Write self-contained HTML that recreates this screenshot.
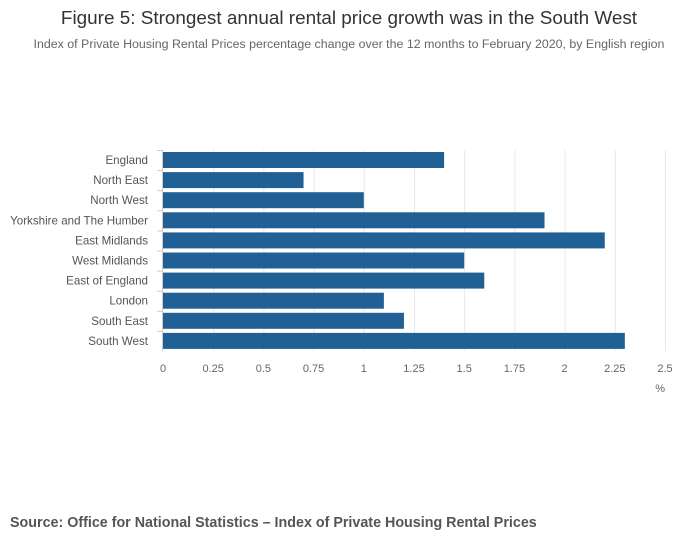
<!DOCTYPE html>
<html><head><meta charset="utf-8"><style>
body{margin:0;background:#fff;width:700px;height:549px;overflow:hidden;font-family:"Liberation Sans",sans-serif;}
</style></head><body>
<svg width="700" height="549" xmlns="http://www.w3.org/2000/svg" font-family="Liberation Sans, sans-serif">
<text x="349" y="24" text-anchor="middle" font-size="18.9" fill="#333">Figure 5: Strongest annual rental price growth was in the South West</text>
<text x="349" y="48" text-anchor="middle" font-size="12.4" fill="#666">Index of Private Housing Rental Prices percentage change over the 12 months to February 2020, by English region</text>
<g id="grid"></g><g id="bars"></g><g id="ylab"></g><g id="xlab"></g>
<line x1="162.5" y1="150" x2="162.5" y2="351" stroke="#ccc"/>
<text x="665" y="392" text-anchor="end" font-size="11" fill="#666">%</text>
<text x="10" y="527" font-size="14.3" font-weight="bold" fill="#555">Source: Office for National Statistics – Index of Private Housing Rental Prices</text>
</svg>
<script>
const categories=["England","North East","North West","Yorkshire and The Humber","East Midlands","West Midlands","East of England","London","South East","South West"];
const values=[1.4,0.7,1.0,1.9,2.2,1.5,1.6,1.1,1.2,2.3];
const ticks=[0,0.25,0.5,0.75,1,1.25,1.5,1.75,2,2.25,2.5];
const tickLabels=["0","0.25","0.5","0.75","1","1.25","1.5","1.75","2","2.25","2.5"];
const NS="http://www.w3.org/2000/svg";
const x=v=>163+v*(665-163)/2.5;
const y=i=>150+i*20.1;
function mk(t,a,p){const e=document.createElementNS(NS,t);for(const k in a)e.setAttribute(k,a[k]);document.getElementById(p).appendChild(e);return e;}
ticks.forEach((t,i)=>{
 if(i>0){const g=mk('line',{x1:x(t)+.5,x2:x(t)+.5,y1:150,y2:351,stroke:'#e8e8e8'},'grid');
 
 }
 const l=mk('text',{x:x(t),y:372,'text-anchor':'middle','font-size':11,fill:'#666'},'xlab');l.textContent=tickLabels[i];
 
 
});
categories.forEach((c,i)=>{
 const r=mk('rect',{x:163,y:y(i)+2,width:x(values[i])-163,height:16,fill:'#206095'},'bars');
 
 
 const t=mk('line',{x1:157,x2:162,y1:y(i)+.5,y2:y(i)+.5,stroke:'#ccc'},'grid');
 
 
 const l=mk('text',{x:148,y:y(i)+14,'text-anchor':'end','font-size':11.6,fill:'#555'},'ylab');l.textContent=c;
 
 
});
</script>
</body></html>
